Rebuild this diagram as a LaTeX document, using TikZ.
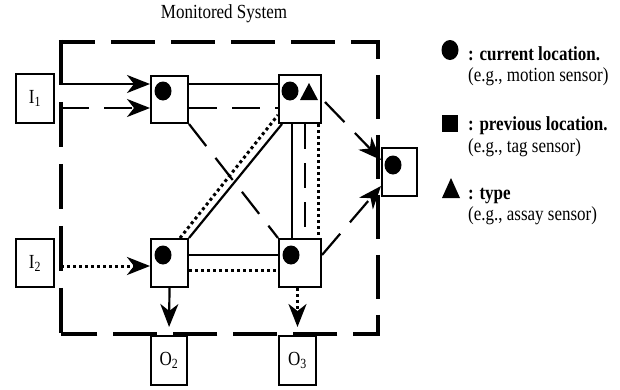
\documentclass[tikz,border=0pt]{standalone}
\usepackage{fontspec}
\setmainfont{Liberation Serif}[FakeStretch=0.85]
\usetikzlibrary{arrows.meta,calc}
\begin{document}
\begin{tikzpicture}[x=1pt,y=-1pt,
  box/.style={draw,line width=2pt,inner sep=0pt,font=\fontsize{20}{24}\selectfont},
  conn/.style={line width=2.2pt},
  dsh/.style={conn,dash pattern=on 28pt off 15pt},
  dotl/.style={line width=3pt,dash pattern=on 3pt off 3pt},
  tip/.style={-{Stealth[length=23pt,width=18pt,inset=7pt]}},
  border/.style={line width=4.5pt},
  lbl/.style={inner sep=0pt,font=\fontsize{20}{24}\selectfont},
  leg/.style={anchor=base west,inner sep=0pt,font=\fontsize{20}{24}\selectfont},
  legb/.style={anchor=base west,inner sep=0pt,font=\fontsize{20}{24}\selectfont\bfseries}
]
\useasboundingbox (0,0) rectangle (620,389);

\node[lbl] (title) at (224,14) {Monitored System};

% monitored-system border
\draw[border,dash pattern=on 44pt off 16pt,dash phase=8pt]
  (58.75,42) -- (378,42) -- (378,334) -- (61,334);
\draw[border,dash pattern=on 45pt off 17pt]
  (61,39.75) -- (61,334);

\node[box,minimum width=38pt,minimum height=49pt] (I1) at (35,98.5) {I\textsubscript{1}};
\node[box,minimum width=38pt,minimum height=48pt] (I2) at (35,263) {I\textsubscript{2}};
\node[box,minimum width=36pt,minimum height=49pt,fill=white] (O2) at (169,360.5) {O\textsubscript{2}};
\node[box,minimum width=37pt,minimum height=49pt,fill=white] (O3) at (297.5,360.5) {O\textsubscript{3}};
\node[box,minimum width=37pt,minimum height=47pt] (A) at (169.5,99.5) {};
\node[box,minimum width=42pt,minimum height=48pt] (B) at (300,99) {};
\node[box,minimum width=37pt,minimum height=48pt] (C) at (169.5,263) {};
\node[box,minimum width=42pt,minimum height=48pt] (D) at (300,263) {};
\node[box,minimum width=35pt,minimum height=48pt] (E) at (399.5,172) {};

% symbols inside nodes
\fill ($(A.center)+(-6.5,-8.5)$) ellipse [x radius=8.5pt,y radius=9.5pt];
\fill ($(B.center)+(-10,-8)$) ellipse [x radius=8.5pt,y radius=9.5pt];
\fill (300,100) -- (318,100) -- (309,83) -- cycle;
\fill ($(C.center)+(-6.5,-8)$) ellipse [x radius=8.5pt,y radius=9.5pt];
\fill ($(D.center)+(-9,-8)$) ellipse [x radius=8.5pt,y radius=9.5pt];
\fill ($(E.center)+(-6.5,-7)$) ellipse [x radius=8.5pt,y radius=9.5pt];

% helper coordinates
\coordinate (ya) at (0,84);
\coordinate (yb) at (0,108);
\coordinate (yc) at (0,266);
\coordinate (yd) at (0,255);
\coordinate (ye) at (0,270);
\coordinate (x1) at (292,0);
\coordinate (x2) at (305,0);
\coordinate (x3) at (318,0);

% inputs
\draw[conn,tip] ($(I1.east |- ya)+(6,0)$) -- (A.west |- ya);
\draw[dsh,tip] ($(I1.east |- yb)+(6,0)$) -- (A.west |- yb);
\draw[dotl,tip] ($(I2.east |- yc)+(6,0)$) -- (C.west |- yc);

% A - B
\draw[conn] (A.east |- ya) -- (B.west |- ya);
\draw[dsh] (A.east |- yb) -- (B.west |- yb);
% A - D
\draw[dsh] (A.south east) -- (D.north west);
% C - B
\draw[conn] (C.north east) -- ($(B.south west)+(4,0)$);
\draw[dotl] ($(C.north)+(10.5,0)$) -- ($(B.west)+(0,16)$);
% C - D
\draw[conn] (C.east |- yd) -- (D.west |- yd);
\draw[dotl] (C.east |- ye) -- (D.west |- ye);
% B - D
\draw[conn] (B.south -| x1) -- (D.north -| x1);
\draw[conn,dash pattern=on 25pt off 14pt] (B.south -| x2) -- (D.north -| x2);
\draw[dotl] (B.south -| x3) -- (D.north -| x3);
% to E
\draw[dsh,tip] ($(B.east)+(3,3)$) -- ($(E.west)+(0,-12)$);
\draw[dsh,tip] ($(D.east)+(0,-8)$) -- ($(E.west)+(0,14)$);
% outputs
\draw[conn,tip,shorten >=8pt] (C.south) -- (O2.north);
\draw[dotl,tip,shorten >=8pt] (O3.north |- D.south) -- (O3.north);

% legend
\fill (450,50) ellipse [x radius=8.5pt,y radius=10pt];
\fill (442,115) rectangle (458,132);
\fill (442,198) -- (460,198) -- (451,178) -- cycle;
\node[legb] (l1) at (468,60) {: current location.};
\node[leg] (l1b) at (468,81) {(e.g., motion sensor)};
\node[legb] (l2) at (468,130) {: previous location.};
\node[leg] (l2b) at (468,152) {(e.g., tag sensor)};
\node[legb] (l3) at (468,199) {: type};
\node[leg] (l3b) at (468,220) {(e.g., assay sensor)};
\end{tikzpicture}
\end{document}
